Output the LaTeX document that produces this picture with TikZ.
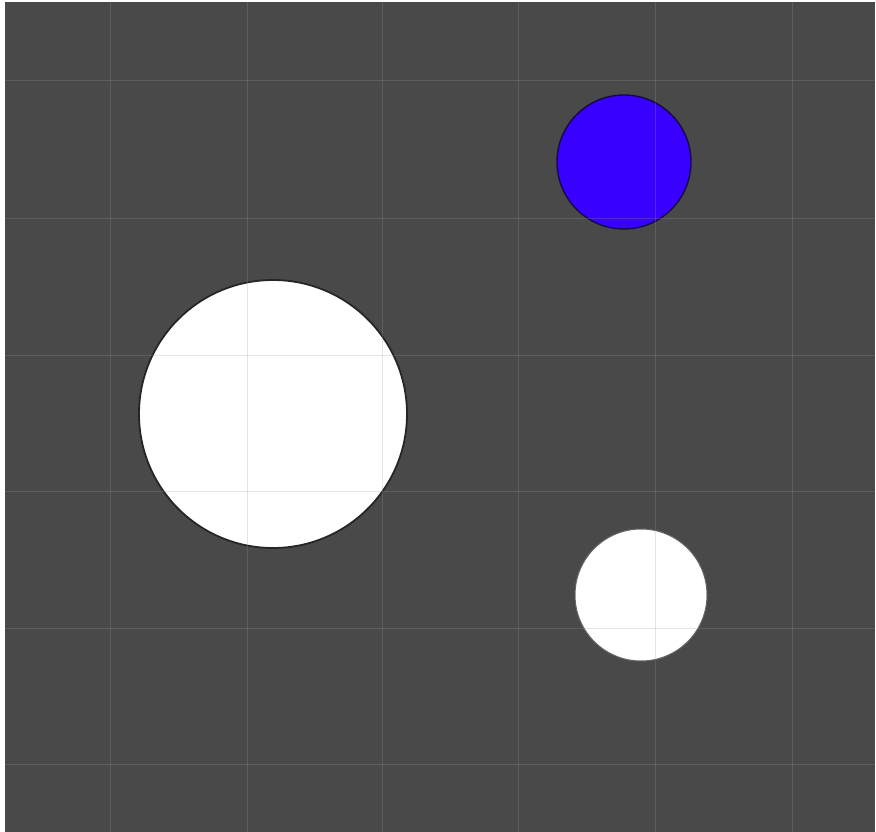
\documentclass[tikz,border=0pt]{standalone}
\usepackage{tikz}
\definecolor{canvasgray}{RGB}{73,73,73}
\definecolor{ballblue}{RGB}{55,0,255}
\definecolor{navyline}{RGB}{20,10,70}
\tikzset{
    ball/.style={circle, draw=black!85, line width=1.8pt, fill=white, inner sep=0pt},
    blueball/.style={circle, draw=navyline, line width=1.4pt, fill=ballblue, inner sep=0pt},
    gridline/.style={draw=gray!80!white, line width=1pt, opacity=0.25},
}
\begin{document}
\begin{tikzpicture}[x=1pt, y=-1pt]
    % canvas
    \fill[white] (0,0) rectangle (876,832);
    \fill[canvasgray] (5,2) rectangle (875,832);
    \useasboundingbox (0,0) rectangle (876,832);

    % circles
    \node[blueball, minimum size=134pt] (blue) at (624,162) {};
    \node[ball, minimum size=268pt] (big) at (273,414) {};
    \node[ball, draw=black!60, line width=1pt, minimum size=132pt] (small) at (641,595) {};

    % grid over everything
    \foreach \gx in {110,247,382,518,655,792}
        \draw[gridline] (\gx,2) -- (\gx,832);
    \foreach \gy in {81,218,355,491,628,764}
        \draw[gridline] (5,\gy) -- (875,\gy);
\end{tikzpicture}
\end{document}
